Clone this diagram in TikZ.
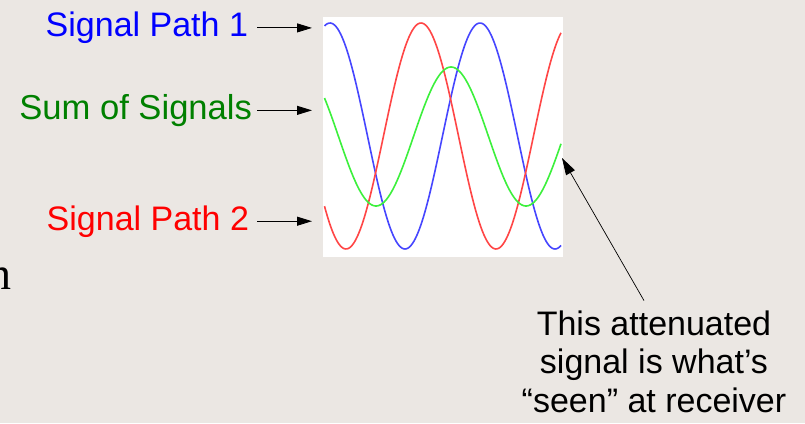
\documentclass[tikz,border=0pt]{standalone}
\usepackage{fontspec}
\setmainfont{Liberation Sans}
\newfontfamily\serifn{Liberation Serif}
\usetikzlibrary{arrows.meta,calc}
\definecolor{bg}{RGB}{235,231,227}
\definecolor{cblue}{RGB}{0,0,255}
\definecolor{cgreen}{RGB}{0,128,0}
\definecolor{cred}{RGB}{255,0,0}
\definecolor{pblue}{RGB}{70,70,255}
\definecolor{pgreen}{RGB}{60,240,60}
\definecolor{pred}{RGB}{255,70,70}
\tikzset{
  lab/.style={anchor=base east, inner sep=0pt, outer sep=0pt, font=\fontsize{34}{38.5}\selectfont},
  arr/.style={-{Triangle[length=15pt,width=9pt]}, line width=0.9pt, black},
  thinarr/.style={-{Triangle[length=17pt,width=10pt]}, line width=0.7pt, black},
  wave/.style={line width=1.6pt, line join=round, smooth}
}
\begin{document}
\begin{tikzpicture}[x=1pt,y=-1pt]
\path[use as bounding box, clip] (0,0) rectangle (805,423);
\fill[bg] (0,0) rectangle (805,423);
% plot area
\fill[white] (323,17) rectangle (563,257);
\draw[wave, pblue] plot[domain=324.5:561, samples=160] (\x, {136 - 113*cos((\x-480)*2.4)});
\draw[wave, pred] plot[domain=324.5:561, samples=160] (\x, {136 - 113*cos((\x-421)*2.4)});
\draw[wave, pgreen] plot[domain=324.5:561, samples=160] (\x, {136.5 - 69.5*cos((\x-451)*2.4)});
% labels
\node[lab, text=cblue] (lab1) at (248,36.7) {Signal Path 1};
\node[lab, text=cgreen, font=\fontsize{34.6}{38.5}\selectfont] (labs) at (252,119.3) {Sum of Signals};
\node[lab, text=cred] (lab2) at (249,230) {Signal Path 2};
\coordinate (tip) at (312,0);
\draw[arr] ([xshift=9pt]lab1.east) -- (lab1.east -| tip);
\draw[arr] ([xshift=5pt]labs.east) -- (labs.east -| tip);
\draw[arr] ([xshift=8pt]lab2.east) -- (lab2.east -| tip);
% annotation
\node[anchor=north, align=center, inner sep=0pt, outer sep=0pt, font=\fontsize{34}{38.5}\selectfont] (note) at (654,310.6)
  {This attenuated\\signal is what’s\\“seen” at receiver};
\coordinate (gend) at (562,158);
\draw[thinarr] ($(note.north)+(-10,-10)$) -- (gend);
% cut-off letter at left edge
\node[anchor=base east, inner sep=0pt, font=\serifn\fontsize{46}{50}\selectfont] (ncut) at (12,289) {n};
\end{tikzpicture}
\end{document}
